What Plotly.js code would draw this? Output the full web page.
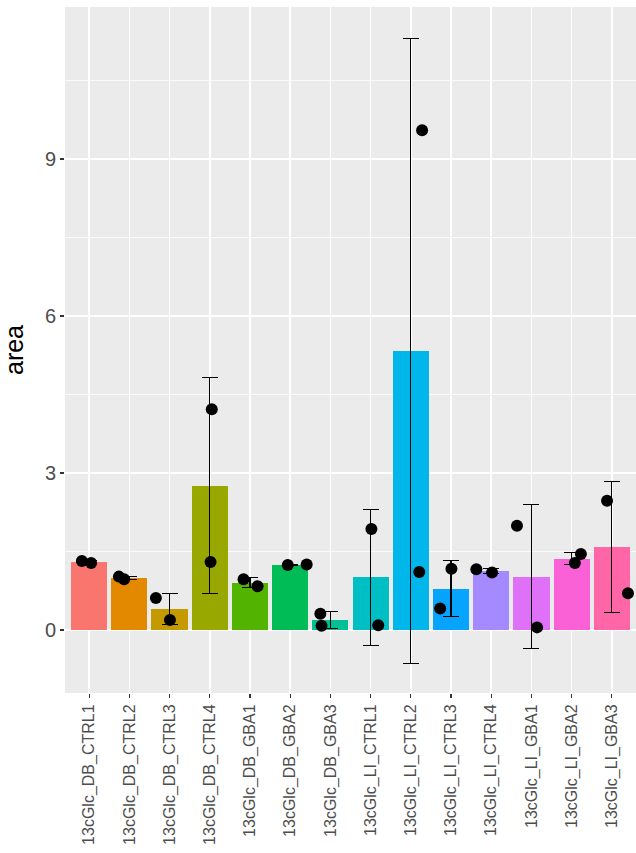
<!DOCTYPE html>
<html>
<head>
<meta charset="utf-8">
<script src="https://cdn.plot.ly/plotly-3.0.1.min.js"></script>
<style>html,body{margin:0;padding:0;background:#fff;}#chart{width:636px;height:853px;}</style>
</head>
<body>
<div id="chart"></div>
<script>
const categories = ["13cGlc_DB_CTRL1","13cGlc_DB_CTRL2","13cGlc_DB_CTRL3","13cGlc_DB_CTRL4","13cGlc_DB_GBA1","13cGlc_DB_GBA2","13cGlc_DB_GBA3","13cGlc_LI_CTRL1","13cGlc_LI_CTRL2","13cGlc_LI_CTRL3","13cGlc_LI_CTRL4","13cGlc_LI_GBA1","13cGlc_LI_GBA2","13cGlc_LI_GBA3"];
const rep1 = [1.32, 1.02, 0.61, 4.22, 0.97, 1.24, 0.31, 1.93, 9.55, 1.17, 1.16, 1.99, 1.45, 2.47];
const rep2 = [1.28, 0.97, 0.19, 1.30, 0.835, 1.25, 0.08, 0.09, 1.11, 0.41, 1.10, 0.05, 1.28, 0.70];
const jitter1 = [-0.18, -0.26, -0.34, 0.05, -0.16, -0.06, -0.25, 0.02, 0.28, 0.01, -0.37, -0.36, 0.23, -0.12];
const jitter2 = [0.05, -0.13, 0.01, 0.02, 0.19, 0.41, -0.22, 0.19, 0.21, -0.27, 0.02, 0.14, 0.08, 0.40];
const colors = ["#F8766D","#E38900","#C49A00","#99A800","#53B400","#00BC56","#00C094","#00BFC4","#00B6EB","#06A4FF","#A58AFF","#DF70F8","#FB61D7","#FF66A8"];

const idx = categories.map((_, i) => i);
const means = idx.map(i => (rep1[i] + rep2[i]) / 2);
const sds = idx.map(i => {
  const m = means[i];
  return Math.sqrt(((rep1[i]-m)**2 + (rep2[i]-m)**2) / 1);
});

const ptsX = [], ptsY = [];
idx.forEach(i => {
  ptsX.push(i + jitter1[i]); ptsY.push(rep1[i]);
  ptsX.push(i + jitter2[i]); ptsY.push(rep2[i]);
});

const font = "Liberation Sans, Arial, Helvetica, sans-serif";

const traces = [
  {
    type: "bar", x: idx, y: means, width: 0.9,
    marker: {color: colors, line: {width: 0}},
    error_y: {type: "data", array: sds, visible: true, color: "#000000", thickness: 1.1, width: 8},
    hoverinfo: "skip", showlegend: false
  },
  {
    type: "scatter", mode: "markers", x: ptsX, y: ptsY,
    marker: {color: "#000000", size: 12},
    hoverinfo: "skip", showlegend: false
  }
];

const layout = {
  width: 636, height: 853,
  margin: {l: 65, r: 0, t: 7, b: 160},
  paper_bgcolor: "#FFFFFF",
  plot_bgcolor: "#EBEBEB",
  showlegend: false,
  bargap: 0,
  font: {family: font, color: "#4D4D4D"},
  xaxis: {
    range: [-0.6, 13.6],
    tickmode: "array", tickvals: idx, ticktext: categories,
    tickangle: -90,
    tickfont: {family: font, size: 16, color: "#4D4D4D"},
    ticks: "outside", ticklen: 4, tickwidth: 1.1, tickcolor: "#333333",
    showgrid: true, gridcolor: "#FFFFFF", gridwidth: 1.6,
    zeroline: false, showline: false, fixedrange: true
  },
  yaxis: {
    range: [-1.204, 11.905],
    tickmode: "array", tickvals: [0, 3, 6, 9], ticktext: ["0", "3", "6", "9"],
    tickfont: {family: font, size: 20, color: "#4D4D4D"},
    ticks: "outside", ticklen: 4, tickwidth: 1.1, tickcolor: "#333333",
    showgrid: true, gridcolor: "#FFFFFF", gridwidth: 1.6,
    minor: {tickmode: "array", tickvals: [-1.5, 1.5, 4.5, 7.5, 10.5], showgrid: true, gridcolor: "#FFFFFF", gridwidth: 0.8, ticks: ""},
    zeroline: false, showline: false, fixedrange: true,
    title: {text: "area", font: {family: font, size: 25, color: "#000000"}, standoff: 14}
  }
};

Plotly.newPlot("chart", traces, layout, {displayModeBar: false, staticPlot: true});
</script>
</body>
</html>
